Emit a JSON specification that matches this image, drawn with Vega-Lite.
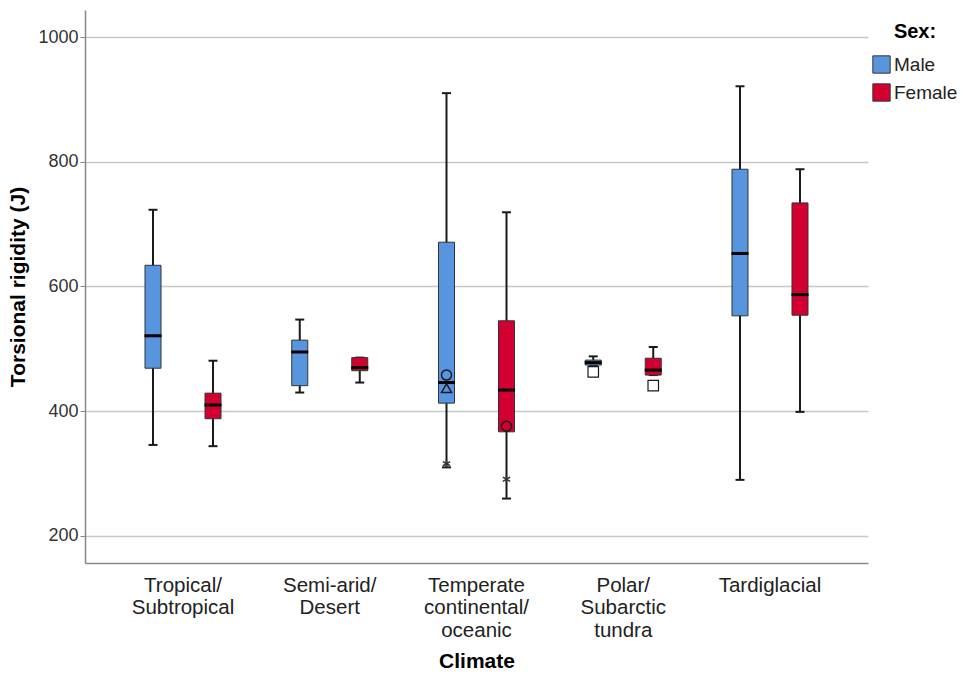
{
  "$schema": "https://vega.github.io/schema/vega-lite/v6.json",
  "autosize": "none",
  "width": 783,
  "height": 553,
  "padding": {"left": 85, "top": 10, "right": 99, "bottom": 112},
  "background": "white",
  "config": {
    "view": {"stroke": null},
    "font": "Liberation Sans",
    "axis": {"labelFont": "Liberation Sans", "titleFont": "Liberation Sans"},
    "legend": {"labelFont": "Liberation Sans", "titleFont": "Liberation Sans"}
  },
  "datasets": {
    "boxes": [
      {"Climate": "Tropical/Subtropical", "Sex": "Male", "lo": 346, "q1": 469, "med": 521, "q3": 634, "hi": 723},
      {"Climate": "Tropical/Subtropical", "Sex": "Female", "lo": 344, "q1": 388, "med": 410, "q3": 429, "hi": 481},
      {"Climate": "Semi-arid/Desert", "Sex": "Male", "lo": 430, "q1": 441, "med": 495, "q3": 514, "hi": 547},
      {"Climate": "Semi-arid/Desert", "Sex": "Female", "lo": 446, "q1": 465, "med": 470, "q3": 486, "hi": 486},
      {"Climate": "Temperate continental/oceanic", "Sex": "Male", "lo": 310, "q1": 413, "med": 446, "q3": 671, "hi": 910},
      {"Climate": "Temperate continental/oceanic", "Sex": "Female", "lo": 260, "q1": 367, "med": 434, "q3": 545, "hi": 719},
      {"Climate": "Polar/Subarctic tundra", "Sex": "Male", "lo": 474, "q1": 474, "med": 478, "q3": 482, "hi": 488},
      {"Climate": "Polar/Subarctic tundra", "Sex": "Female", "lo": 458, "q1": 458, "med": 466, "q3": 485, "hi": 503},
      {"Climate": "Tardiglacial", "Sex": "Male", "lo": 290, "q1": 553, "med": 653, "q3": 788, "hi": 921},
      {"Climate": "Tardiglacial", "Sex": "Female", "lo": 399, "q1": 554, "med": 587, "q3": 734, "hi": 788}
    ],
    "outliers": [
      {"Climate": "Temperate continental/oceanic", "Sex": "Male", "value": 458, "marker": "circle"},
      {"Climate": "Temperate continental/oceanic", "Sex": "Male", "value": 437, "marker": "triangle"},
      {"Climate": "Temperate continental/oceanic", "Sex": "Male", "value": 316, "marker": "asterisk"},
      {"Climate": "Temperate continental/oceanic", "Sex": "Female", "value": 376, "marker": "circle"},
      {"Climate": "Temperate continental/oceanic", "Sex": "Female", "value": 291, "marker": "asterisk"},
      {"Climate": "Polar/Subarctic tundra", "Sex": "Male", "value": 463, "marker": "square"},
      {"Climate": "Polar/Subarctic tundra", "Sex": "Female", "value": 441, "marker": "square"}
    ]
  },
  "encoding": {
    "x": {
      "field": "Climate",
      "type": "nominal",
      "sort": ["Tropical/Subtropical", "Semi-arid/Desert", "Temperate continental/oceanic", "Polar/Subarctic tundra", "Tardiglacial"],
      "scale": {"paddingInner": 0.1823, "paddingOuter": 0.259},
      "axis": {
        "title": "Climate",
        "titleFontSize": 21,
        "titleFontWeight": "bold",
        "titleColor": "#000",
        "titlePadding": 10,
        "labelAngle": 0,
        "labelFontSize": 20.5,
        "labelColor": "#222",
        "labelLineHeight": 22.5,
        "labelPadding": 12,
        "labelBaseline": "top",
        "ticks": false,
        "grid": false,
        "domainColor": "#888",
        "domainWidth": 1.5,
        "labelExpr": "datum.label == 'Tropical/Subtropical' ? ['Tropical/', 'Subtropical'] : datum.label == 'Semi-arid/Desert' ? ['Semi-arid/', 'Desert'] : datum.label == 'Temperate continental/oceanic' ? ['Temperate', 'continental/', 'oceanic'] : datum.label == 'Polar/Subarctic tundra' ? ['Polar/', 'Subarctic', 'tundra'] : datum.label"
      }
    },
    "xOffset": {
      "field": "Sex",
      "type": "nominal",
      "sort": ["Male", "Female"],
      "scale": {"paddingInner": 0, "paddingOuter": 0}
    }
  },
  "layer": [
    {
      "data": {"name": "boxes"},
      "mark": {"type": "rule", "color": "#1a1a1a", "strokeWidth": 2},
      "encoding": {
        "y": {
          "field": "lo",
          "type": "quantitative",
          "scale": {"domain": [156.7, 1043.3], "nice": false, "zero": false},
          "axis": {
            "title": "Torsional rigidity (J)",
            "titleFontSize": 21,
            "titleFontWeight": "bold",
            "titleColor": "#000",
            "titlePadding": 9,
            "values": [200, 400, 600, 800, 1000],
            "format": "d",
            "labelFontSize": 18,
            "labelColor": "#333",
            "labelPadding": 2,
            "tickSize": 5,
            "tickColor": "#888",
            "domainColor": "#888",
            "domainWidth": 1.5,
            "grid": true,
            "gridColor": "#c8c8c8",
            "gridWidth": 1.5
          }
        },
        "y2": {"field": "hi"}
      }
    },
    {
      "data": {"name": "boxes"},
      "mark": {"type": "tick", "color": "#1a1a1a", "size": 9, "thickness": 2, "opacity": 1},
      "encoding": {"y": {"field": "lo", "type": "quantitative"}}
    },
    {
      "data": {"name": "boxes"},
      "mark": {"type": "tick", "color": "#1a1a1a", "size": 9, "thickness": 2, "opacity": 1},
      "encoding": {"y": {"field": "hi", "type": "quantitative"}}
    },
    {
      "data": {"name": "boxes"},
      "mark": {"type": "bar", "width": 16, "stroke": "#333", "strokeWidth": 1, "opacity": 1},
      "encoding": {
        "y": {"field": "q1", "type": "quantitative"},
        "y2": {"field": "q3"},
        "fill": {
          "field": "Sex",
          "type": "nominal",
          "sort": ["Male", "Female"],
          "scale": {"domain": ["Male", "Female"], "range": ["#5895df", "#d20030"]},
          "legend": {
            "title": "Sex:",
            "orient": "none",
            "legendX": 787,
            "legendY": 12,
            "titleFontSize": 20,
            "titleFontWeight": "bold",
            "titleColor": "#000",
            "titleAnchor": "middle",
            "titlePadding": 13,
            "labelFontSize": 19,
            "labelColor": "#222",
            "labelOffset": 3,
            "symbolType": "square",
            "symbolSize": 300,
            "symbolStrokeColor": "#333",
            "symbolStrokeWidth": 1,
            "rowPadding": 5
          }
        }
      }
    },
    {
      "data": {"name": "boxes"},
      "mark": {"type": "tick", "color": "#000", "size": 17, "thickness": 3, "opacity": 1},
      "encoding": {"y": {"field": "med", "type": "quantitative"}}
    },
    {
      "data": {"name": "outliers"},
      "transform": [{"filter": "datum.marker == 'circle' || datum.marker == 'triangle'"}],
      "mark": {"type": "point", "filled": false, "stroke": "#1a1a1a", "strokeWidth": 1.5, "opacity": 1},
      "encoding": {
        "y": {"field": "value", "type": "quantitative"},
        "shape": {"field": "marker", "type": "nominal", "scale": {"domain": ["circle", "triangle"], "range": ["circle", "triangle-up"]}, "legend": null},
        "size": {"value": 100}
      }
    },
    {
      "data": {"name": "outliers"},
      "transform": [{"filter": "datum.marker == 'square'"}],
      "mark": {"type": "point", "shape": "square", "filled": true, "fill": "white", "stroke": "#1a1a1a", "strokeWidth": 1.2, "size": 110, "opacity": 1},
      "encoding": {"y": {"field": "value", "type": "quantitative"}}
    },
    {
      "data": {"name": "outliers"},
      "transform": [{"filter": "datum.marker == 'asterisk'"}],
      "mark": {"type": "point", "shape": "M0,-1L0,1M-0.87,-0.5L0.87,0.5M-0.87,0.5L0.87,-0.5", "filled": false, "stroke": "#333", "strokeWidth": 1.5, "size": 70, "opacity": 1},
      "encoding": {"y": {"field": "value", "type": "quantitative"}}
    }
  ]
}
